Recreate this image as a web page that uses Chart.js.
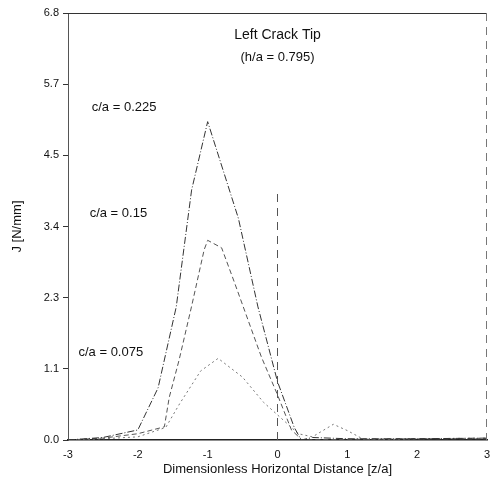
<!DOCTYPE html>
<html>
<head>
<meta charset="utf-8">
<script src="https://cdn.jsdelivr.net/npm/chart.js@4.4.1/dist/chart.umd.min.js"></script>
<style>
  html, body { margin: 0; padding: 0; background: #fff; }
  #wrap { width: 490px; height: 480px; }
</style>
</head>
<body>
<div id="wrap"><canvas id="c" width="490" height="480"></canvas></div>
<script>
// ---- data ----
const xTickValues = [-3, -2, -1, 0, 1, 2, 3];
const xTickLabels = ['-3', '-2', '-1', '0', '1', '2', '3'];
const yTickValues = [0, 1.1333, 2.2667, 3.4, 4.5333, 5.6667, 6.8];
const yTickLabels = ['0.0', '1.1', '2.3', '3.4', '4.5', '5.7', '6.8'];

const seriesNames = ['c/a = 0.225', 'c/a = 0.15', 'c/a = 0.075'];

const x225 = [-3, -2.5, -2, -1.71, -1.45, -1.23, -1.0, -0.56, -0.28, 0, 0.24, 0.34, 0.5, 1, 2, 3];
const j225 = [0, 0.04, 0.16, 0.83, 2.12, 3.98, 5.07, 3.53, 2.12, 0.93, 0.2, 0, 0.04, 0.02, 0.02, 0.03];

const x15 = [-3, -2.5, -2, -1.62, -1.55, -1.41, -1.23, -1.05, -1.0, -0.8, -0.62, -0.23, 0, 0.2, 0.35, 1, 2, 3];
const j15 = [0, 0.03, 0.1, 0.21, 0.68, 1.27, 2.13, 3.03, 3.18, 3.06, 2.52, 1.32, 0.72, 0.16, 0, 0.01, 0.02, 0.02];

const x075 = [-3, -2.5, -2, -1.6, -1.4, -1.1, -0.85, -0.5, -0.2, 0, 0.3, 0.5, 0.8, 1.0, 1.25, 2, 3];
const j075 = [0, 0.02, 0.05, 0.2, 0.58, 1.1, 1.3, 1.0, 0.6, 0.4, 0.1, 0.05, 0.25, 0.15, 0, 0.02, 0.03];

const refX = [0, 0];
const refJ = [0, 4.0];

const labelX = [-2.66, -2.69, -2.85];
const labelJ = [5.29, 3.61, 1.39];

const titleLines = ['Left Crack Tip', '(h/a = 0.795)'];
const xTitle = 'Dimensionless Horizontal Distance [z/a]';
const yTitle = 'J [N/mm]';

function pts(xs, ys) { return xs.map((x, i) => ({ x: x, y: ys[i] })); }

const FONT = '"Liberation Sans", Arial, sans-serif';

const overlay = {
  id: 'overlay',
  afterDraw(chart) {
    const ctx = chart.ctx;
    const a = chart.chartArea;
    const xs = chart.scales.x, ys = chart.scales.y;
    ctx.save();
    // top border
    ctx.strokeStyle = '#333';
    ctx.lineWidth = 1.2;
    ctx.beginPath();
    ctx.moveTo(a.left, a.top + 0.5);
    ctx.lineTo(a.right, a.top + 0.5);
    ctx.stroke();
    // right border (faint dashed)
    ctx.strokeStyle = '#777';
    ctx.lineWidth = 1;
    ctx.setLineDash([8, 6]);
    ctx.beginPath();
    ctx.moveTo(a.right - 0.5, a.top);
    ctx.lineTo(a.right - 0.5, a.bottom);
    ctx.stroke();
    ctx.setLineDash([]);
    // title
    ctx.fillStyle = '#111';
    ctx.textAlign = 'center';
    ctx.textBaseline = 'middle';
    const cx = (a.left + a.right) / 2;
    ctx.font = '14px ' + FONT;
    ctx.fillText(titleLines[0], cx, a.top + 22);
    ctx.font = '13px ' + FONT;
    ctx.fillText(titleLines[1], cx, a.top + 44);
    // series labels
    ctx.font = '13px ' + FONT;
    ctx.textAlign = 'left';
    for (let i = 0; i < seriesNames.length; i++) {
      ctx.fillText(seriesNames[i], xs.getPixelForValue(labelX[i]), ys.getPixelForValue(labelJ[i]));
    }
    ctx.restore();
  }
};

new Chart(document.getElementById('c'), {
  type: 'line',
  data: {
    datasets: [
      { label: seriesNames[0], data: pts(x225, j225), borderColor: '#333', borderWidth: 1, borderDash: [7, 2, 1, 2], pointRadius: 0, tension: 0, fill: false },
      { label: seriesNames[1], data: pts(x15, j15), borderColor: '#555', borderWidth: 1, borderDash: [5, 3], pointRadius: 0, tension: 0, fill: false },
      { label: seriesNames[2], data: pts(x075, j075), borderColor: '#777', borderWidth: 1, borderDash: [2, 3], pointRadius: 0, tension: 0, fill: false },
      { label: 'ref', data: pts(refX, refJ), borderColor: '#555', borderWidth: 1, borderDash: [8, 6], pointRadius: 0, tension: 0, fill: false }
    ]
  },
  options: {
    responsive: false,
    animation: false,
    devicePixelRatio: 1,
    layout: { padding: { top: 13, right: 3, left: 0, bottom: 0 } },
    plugins: { legend: { display: false }, tooltip: { enabled: false } },
    scales: {
      x: {
        type: 'linear',
        min: -3, max: 3,
        afterBuildTicks: s => { s.ticks = xTickValues.map(v => ({ value: v })); },
        afterFit: s => { s.height = 40; s.paddingLeft = 0; s.paddingRight = 0; },
        ticks: {
          callback: (v, i) => xTickLabels[i],
          color: '#111',
          font: { family: FONT, size: 11 },
          padding: 8,
          maxRotation: 0
        },
        grid: { display: false, drawTicks: false },
        border: { display: true, color: '#222', width: 1.5 },
        title: { display: true, text: xTitle, color: '#111', font: { family: FONT, size: 13 }, padding: { top: 0, bottom: 3 } }
      },
      y: {
        type: 'linear',
        min: 0, max: 6.8,
        afterBuildTicks: s => { s.ticks = yTickValues.map(v => ({ value: v })); },
        afterFit: s => { s.width = 68; s.paddingTop = 0; s.paddingBottom = 0; },
        ticks: {
          callback: (v, i) => yTickLabels[i],
          color: '#111',
          font: { family: FONT, size: 11 },
          padding: 4
        },
        grid: { display: true, drawOnChartArea: false, drawTicks: true, tickLength: 5, color: '#333' },
        border: { display: true, color: '#555', width: 1, dash: [2, 3] },
        title: { display: true, text: yTitle, color: '#111', font: { family: FONT, size: 13 }, padding: { top: 10, bottom: 4 } }
      }
    }
  },
  plugins: [overlay]
});
</script>
</body>
</html>
